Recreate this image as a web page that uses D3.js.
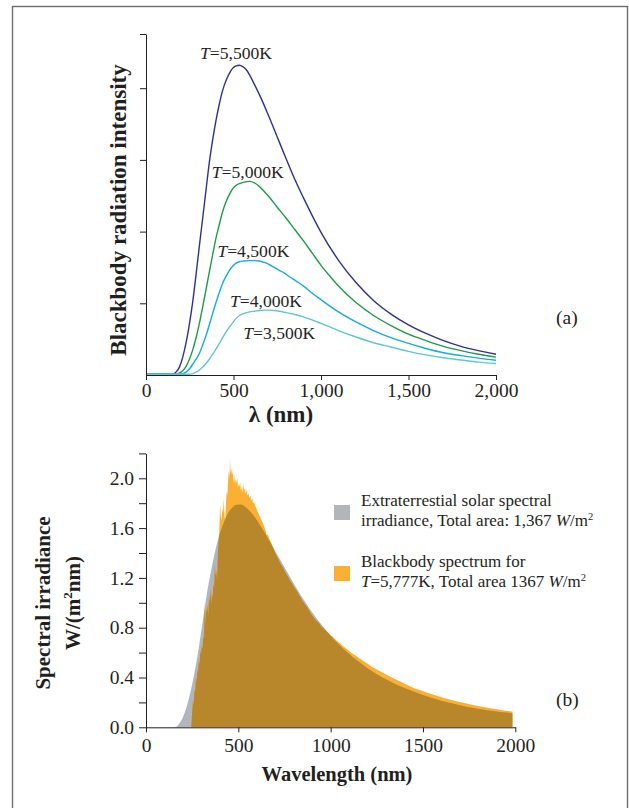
<!DOCTYPE html>
<html><head><meta charset="utf-8">
<script src="https://cdn.jsdelivr.net/npm/d3@7"></script>
<style>
body{margin:0;background:#fff}
svg{display:block}
text{font-family:"Liberation Serif","Times New Roman",serif;fill:#231f20}
</style>
</head><body>
<svg id="c" width="629" height="808"></svg>
<script>
// ---------- Panel (a) data ----------
const xTicksA = [0, 500, 1000, 1500, 2000];
const yTicksA = [1, 2, 3, 4];
const yMaxA = 4.756;
const temps = ["5,500", "5,000", "4,500", "4,000", "3,500"];
const labelLam = [309, 376, 408, 480, 556];
const labelVal = [4.41, 2.75, 1.64, 0.944, 0.498];
const curveColors = ["#2e3192", "#1f9a49", "#14a9ea", "#5fc6d4"];
const curve5500 = [[0,.01],[140,.01],[160,.02],[175,.05],[191,.11],[210,.25],[229,.45],[248,.71],[267,1.02],[286,1.40],[305,1.80],[324,2.19],[343,2.58],[362,2.97],[381,3.28],[400,3.55],[419,3.78],[438,3.97],[458,4.11],[477,4.21],[496,4.28],[515,4.31],[534,4.32],[553,4.30],[572,4.26],[591,4.19],[620,4.05],[650,3.90],[700,3.62],[750,3.32],[800,3.02],[850,2.73],[900,2.47],[1000,1.99],[1100,1.60],[1200,1.29],[1300,1.04],[1400,0.85],[1500,0.70],[1600,0.58],[1700,0.48],[1800,0.40],[1900,0.34],[2000,0.29]];
const curve5000 = [[0,.01],[175,.012],[191,.03],[210,.06],[229,.12],[248,.22],[267,.35],[286,.52],[305,.72],[324,.95],[343,1.19],[362,1.44],[381,1.68],[400,1.91],[419,2.10],[438,2.28],[458,2.42],[477,2.52],[496,2.60],[515,2.645],[534,2.67],[562,2.69],[591,2.70],[620,2.68],[648,2.63],[676,2.56],[705,2.48],[750,2.34],[800,2.19],[850,2.03],[900,1.87],[950,1.70],[1000,1.53],[1050,1.38],[1100,1.24],[1200,1.01],[1300,0.83],[1400,0.69],[1500,0.57],[1600,0.48],[1700,0.40],[1800,0.34],[1900,0.29],[2000,0.25]];
const curve4500 = [[0,.01],[195,.01],[210,.02],[229,.04],[250,.09],[267,.15],[286,.22],[305,.30],[324,.42],[343,.55],[362,.70],[381,.86],[400,1.01],[419,1.15],[438,1.28],[458,1.38],[477,1.46],[496,1.52],[515,1.56],[534,1.58],[560,1.59],[591,1.595],[620,1.595],[648,1.59],[676,1.57],[705,1.54],[733,1.50],[762,1.46],[791,1.42],[820,1.37],[858,1.31],[900,1.24],[950,1.14],[1000,1.05],[1100,0.88],[1200,0.74],[1300,0.62],[1400,0.52],[1500,0.44],[1600,0.37],[1700,0.31],[1800,0.27],[1900,0.235],[2000,0.205]];
const curve4000 = [[0,.01],[240,.01],[267,.02],[286,.04],[305,.07],[324,.11],[343,.16],[362,.22],[381,.29],[400,.36],[419,.44],[438,.52],[458,.60],[477,.67],[496,.73],[515,.79],[534,.83],[562,.86],[591,.88],[620,.89],[648,.90],[676,.905],[705,.905],[733,.90],[762,.89],[800,.87],[858,.84],[900,.81],[1000,.72],[1100,.62],[1200,.53],[1300,.45],[1400,.39],[1500,.33],[1600,.28],[1700,.24],[1800,.21],[1900,.18],[2000,.16]];

// ---------- Panel (b) data ----------
const xTicksB = [0, 500, 1000, 1500, 2000];
const yTicksB = [0, 0.2, 0.4, 0.6, 0.8, 1.0, 1.2, 1.4, 1.6, 1.8, 2.0, 2.2];
const yLabelsB = [0, 0.4, 0.8, 1.2, 1.6, 2.0];
const grayColor = "#b2b5bc", orangeColor = "#fbb034", overlapColor = "#b8862b";
const blackbody5777 = [[155,0],[170,0.01],[185,0.04],[200,0.08],[215,0.14],[230,0.22],[245,0.31],[260,0.42],[275,0.54],[290,0.68],[305,0.83],[320,0.98],[335,1.12],[350,1.24],[365,1.35],[380,1.45],[395,1.53],[410,1.60],[425,1.66],[440,1.71],[455,1.745],[470,1.77],[485,1.785],[500,1.79],[515,1.79],[530,1.78],[550,1.755],[575,1.715],[600,1.665],[650,1.545],[700,1.415],[750,1.285],[800,1.155],[850,1.035],[900,0.925],[950,0.825],[1000,0.735],[1100,0.59],[1200,0.475],[1300,0.385],[1400,0.315],[1500,0.26],[1600,0.214],[1700,0.178],[1800,0.149],[1900,0.126],[1985,0.11],[1985,0]];
const solarSpectrum = [[245,0],[247,0.05],[250,0.12],[254,0.22],[258,0.18],[262,0.30],[266,0.28],[270,0.40],[274,0.36],[278,0.46],[282,0.44],[286,0.55],[290,0.50],[294,0.62],[298,0.58],[302,0.66],[306,0.63],[310,0.74],[314,0.70],[318,1.02],[321,0.82],[325,0.96],[329,0.92],[333,0.99],[337,0.90],[341,1.05],[345,1.00],[349,1.12],[353,0.98],[357,1.08],[361,1.04],[365,1.16],[369,1.12],[373,1.30],[377,1.22],[381,1.26],[385,1.18],[389,1.40],[393,1.50],[397,1.58],[401,1.79],[405,1.70],[409,1.66],[413,1.76],[417,1.72],[421,1.84],[425,1.70],[429,1.66],[433,1.80],[437,1.90],[441,1.86],[445,2.00],[449,2.06],[452,2.00],[455,2.16],[458,2.04],[462,2.08],[466,2.02],[470,2.06],[474,1.97],[478,2.02],[482,1.95],[486,2.00],[490,1.96],[494,2.01],[498,1.92],[502,1.96],[506,1.93],[510,1.97],[514,1.90],[518,1.93],[522,1.88],[526,1.96],[530,1.90],[534,1.92],[538,1.87],[542,1.92],[546,1.88],[550,1.86],[555,1.88],[560,1.84],[565,1.86],[570,1.82],[575,1.84],[580,1.80],[585,1.81],[590,1.78],[595,1.77],[600,1.75],[606,1.73],[612,1.71],[618,1.69],[624,1.67],[630,1.65],[636,1.63],[642,1.60],[648,1.58],[654,1.54],[660,1.55],[666,1.52],[672,1.50],[678,1.48],[684,1.46],[690,1.44],[700,1.40],[710,1.37],[720,1.34],[730,1.31],[740,1.29],[750,1.26],[760,1.23],[770,1.21],[780,1.18],[790,1.16],[800,1.13],[815,1.10],[830,1.06],[845,1.02],[860,0.99],[875,0.96],[890,0.92],[905,0.89],[920,0.86],[935,0.84],[950,0.81],[965,0.79],[980,0.77],[995,0.745],[1010,0.73],[1030,0.70],[1050,0.675],[1070,0.65],[1090,0.625],[1110,0.60],[1130,0.58],[1150,0.56],[1175,0.535],[1200,0.51],[1225,0.485],[1250,0.465],[1275,0.445],[1300,0.425],[1325,0.405],[1350,0.385],[1375,0.37],[1400,0.35],[1430,0.33],[1460,0.31],[1490,0.295],[1520,0.28],[1550,0.266],[1580,0.252],[1610,0.238],[1640,0.226],[1670,0.213],[1700,0.203],[1730,0.193],[1760,0.183],[1790,0.174],[1820,0.165],[1850,0.157],[1880,0.149],[1910,0.142],[1940,0.135],[1970,0.129],[1985,0.126],[1985,0]];

// ---------- drawing ----------
const FONT = '"Liberation Serif","Times New Roman",serif';
const INK = "#231f20";
const svg = d3.select("#c");
svg.append("rect").attr("width", 629).attr("height", 808).attr("fill", "#fff");
svg.append("rect").attr("x", 12.5).attr("y", 6.5).attr("width", 615).attr("height", 830)
  .attr("fill", "none").attr("stroke", "#6d6e71").attr("stroke-width", 1.4);

function rich(sel, parts, size) {
  parts.forEach(p => {
    const t = sel.append("tspan").text(p.t);
    if (p.i) t.attr("font-style", "italic");
    if (p.sup) t.attr("font-size", size * 0.62).attr("dy", -size * 0.38);
    if (p.after) t.attr("dy", size * 0.38);
  });
  return sel;
}
function styleAxis(g, size) {
  g.attr("font-family", FONT).attr("font-size", size);
  g.selectAll("path.domain").attr("stroke", INK).attr("stroke-width", 1);
  g.selectAll(".tick line").attr("stroke", INK).attr("stroke-width", 1);
  g.selectAll(".tick text").attr("fill", INK);
}

// Panel (a)
const xA = d3.scaleLinear().domain([0, 2000]).range([146, 496]);
const yA = d3.scaleLinear().domain([0, yMaxA]).range([375, 34]);
const lineA = d3.line().x(d => xA(d[0])).y(d => yA(d[1])).curve(d3.curveMonotoneX);
[curve5500, curve5000, curve4500, curve4000].forEach((c, i) => {
  svg.append("path").datum(c).attr("d", lineA).attr("fill", "none")
    .attr("stroke", curveColors[i]).attr("stroke-width", 1.4);
});
const gxA = svg.append("g").attr("transform", "translate(0,375)")
  .call(d3.axisBottom(xA).tickValues(xTicksA).tickFormat(d3.format(",")).tickSize(5).tickSizeOuter(0).tickPadding(3));
styleAxis(gxA, 19.5);
const gyA = svg.append("g").attr("transform", "translate(146,0)")
  .call(d3.axisLeft(yA).tickValues(yTicksA.concat([yMaxA])).tickFormat("").tickSize(6).tickSizeOuter(0));
styleAxis(gyA, 19.5);
temps.forEach((t, i) => {
  const tx = svg.append("text").attr("x", xA(labelLam[i])).attr("y", yA(labelVal[i])).attr("font-size", 17.6);
  rich(tx, [{t: "T", i: true}, {t: "=" + t + "K"}], 17.6);
});
svg.append("text").attr("transform", "translate(126,210) rotate(-90)").attr("text-anchor", "middle")
  .attr("font-size", 23).attr("font-weight", "bold").text("Blackbody radiation intensity");
svg.append("text").attr("x", 281).attr("y", 422).attr("text-anchor", "middle")
  .attr("font-size", 23).attr("font-weight", "bold").text("λ (nm)");
svg.append("text").attr("x", 556).attr("y", 324).attr("font-size", 19.5).text("(a)");

// Panel (b)
const xB = d3.scaleLinear().domain([0, 2000]).range([146, 515.3]);
const yB = d3.scaleLinear().domain([0, 2.2]).range([727.3, 453.4]);
const areaGray = d3.area().x(d => xB(d[0])).y0(yB(0)).y1(d => yB(d[1])).curve(d3.curveMonotoneX);
const areaSolar = d3.area().x(d => xB(d[0])).y0(yB(0)).y1(d => yB(d[1])).curve(d3.curveLinear);
svg.append("defs").append("clipPath").attr("id", "grayClip")
  .append("path").datum(blackbody5777).attr("d", areaGray);
svg.append("path").datum(blackbody5777).attr("d", areaGray).attr("fill", grayColor);
svg.append("path").datum(solarSpectrum).attr("d", areaSolar).attr("fill", orangeColor);
svg.append("path").datum(solarSpectrum).attr("d", areaSolar).attr("fill", overlapColor).attr("clip-path", "url(#grayClip)");

const gxB = svg.append("g").attr("transform", "translate(0,727.3)")
  .call(d3.axisBottom(xB).tickValues(xTicksB).tickFormat(d => String(d)).tickSize(5).tickSizeOuter(0).tickPadding(6));
styleAxis(gxB, 19.5);
const gyB = svg.append("g").attr("transform", "translate(146,0)")
  .call(d3.axisLeft(yB).tickValues(yTicksB)
    .tickFormat(d => yLabelsB.some(v => Math.abs(v - d) < 1e-9) ? d3.format(".1f")(d) : "")
    .tickSize(7).tickSizeOuter(0).tickPadding(5));
styleAxis(gyB, 19.5);

// legend
const legend = [
  {color: grayColor, y: 505, lines: [[{t: "Extraterrestial solar spectral"}], [{t: "irradiance, Total area: 1,367 "}, {t: "W", i: true}, {t: "/m"}, {t: "2", sup: true}]]},
  {color: orangeColor, y: 566, lines: [[{t: "Blackbody spectrum for"}], [{t: "T", i: true}, {t: "=5,777K, Total area 1367 "}, {t: "W", i: true}, {t: "/m"}, {t: "2", sup: true}]]}
];
legend.forEach(L => {
  svg.append("rect").attr("x", 334).attr("y", L.y).attr("width", 16).attr("height", 15).attr("fill", L.color);
  L.lines.forEach((ln, j) => {
    const tx = svg.append("text").attr("x", 361).attr("y", L.y + 0.5 + j * 20.5).attr("font-size", 17);
    rich(tx, ln, 17);
  });
});

const yt = svg.append("g").attr("transform", "translate(0,603)");
yt.append("text").attr("transform", "translate(49.5,0) rotate(-90)").attr("text-anchor", "middle")
  .attr("font-size", 21).attr("font-weight", "bold").text("Spectral irradiance");
const yt2 = yt.append("text").attr("transform", "translate(80,0) rotate(-90)").attr("text-anchor", "middle")
  .attr("font-size", 21).attr("font-weight", "bold");
rich(yt2, [{t: "W/(m"}, {t: "2", sup: true}, {t: "nm)", after: true}], 21);
svg.append("text").attr("x", 337).attr("y", 781).attr("text-anchor", "middle")
  .attr("font-size", 20.5).attr("font-weight", "bold").text("Wavelength (nm)");
svg.append("text").attr("x", 556).attr("y", 706).attr("font-size", 19.5).text("(b)");
</script>
</body></html>
